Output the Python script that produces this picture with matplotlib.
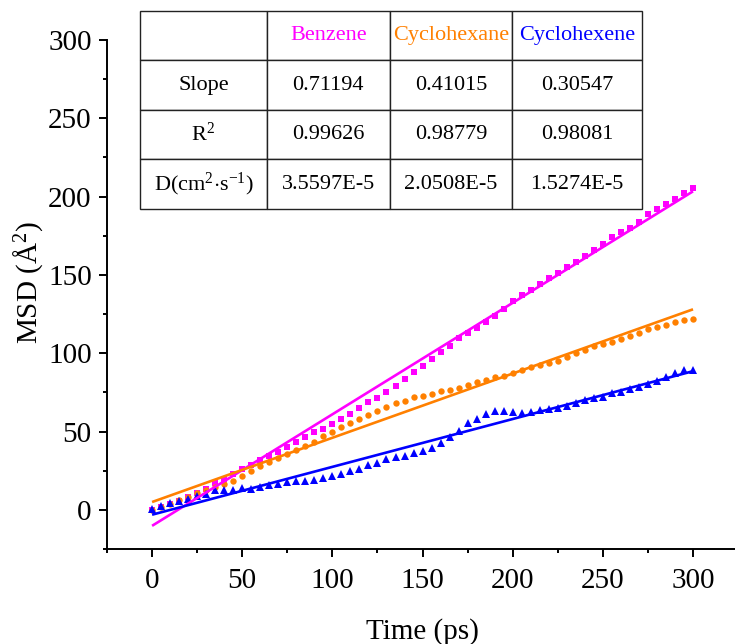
import numpy as np
import matplotlib
matplotlib.use("Agg")
import matplotlib.pyplot as plt
from matplotlib.ticker import MultipleLocator

plt.rcParams['font.family'] = ['Liberation Serif', 'DejaVu Serif']
plt.rcParams['mathtext.fontset'] = 'custom'
plt.rcParams['mathtext.rm'] = 'Liberation Serif'
plt.rcParams['mathtext.it'] = 'Liberation Serif:italic'
plt.rcParams['mathtext.bf'] = 'Liberation Serif:bold'

# MSD curves sampled every 5 ps
time_ps = np.arange(0, 301, 5)

benzene = [0.0, 1.5, 3.5, 5.5, 8.0, 10.6, 13.3, 17.2, 19.4, 23.2,
           26.1, 28.7, 31.9, 34.7, 37.2, 40.4, 43.6, 46.8, 49.4, 51.9,
           54.9, 58.2, 61.4, 65.3, 68.6, 71.7, 75.5, 79.2, 83.8, 88.3,
           92.0, 96.4, 101.1, 104.9, 109.6, 112.8, 116.4, 120.2, 124.0, 128.1,
           133.3, 137.2, 140.4, 144.0, 147.9, 151.1, 155.3, 158.5, 162.1, 166.0,
           170.0, 174.1, 177.2, 180.2, 184.0, 188.7, 191.9, 195.1, 198.3, 202.1,
           205.3]

cyclohexane = [0.0, 1.7, 3.6, 6.1, 8.3, 10.8, 12.5, 14.3, 16.4, 18.6,
               21.9, 25.1, 28.1, 30.6, 33.2, 35.5, 37.9, 40.9, 43.6, 47.4,
               49.9, 52.8, 55.5, 58.0, 60.7, 63.3, 65.6, 68.1, 69.8, 71.9,
               72.8, 74.2, 75.8, 76.8, 78.1, 79.8, 81.4, 83.0, 84.6, 85.7,
               87.5, 89.1, 91.1, 92.6, 93.8, 95.2, 97.3, 100.0, 102.0, 104.5,
               106.0, 107.4, 109.1, 110.9, 113.0, 115.3, 117.0, 118.3, 119.7, 121.3,
               122.1]

cyclohexene = [0.3, 2.2, 4.4, 5.6, 6.8, 8.6, 10.0, 12.6, 12.6, 12.6,
               14.2, 13.2, 14.3, 15.7, 16.4, 17.7, 18.1, 18.7, 19.1, 20.6,
               21.7, 23.0, 24.7, 26.1, 28.4, 29.8, 32.5, 33.6, 34.5, 36.2,
               37.7, 39.5, 42.6, 46.3, 50.6, 55.3, 58.0, 61.1, 63.3, 63.4,
               62.5, 61.7, 62.3, 63.8, 64.3, 64.9, 66.4, 68.1, 70.2, 71.3,
               72.3, 74.5, 75.5, 77.0, 78.7, 80.4, 82.3, 84.7, 87.2, 89.4,
               89.4]

names = ['Benzene', 'Cyclohexane', 'Cyclohexene']
colors = ['#FF00FF', '#FF8000', '#0000FF']
markers = ['s', 'o', '^']
marker_sizes = [3.8, 4.6, 5.2]

# linear fits (slope from the table, intercept of the fitted line)
slopes = [0.71194, 0.41015, 0.30547]
intercepts = [-10.2, 5.0, -3.1]
r_squared = ['0.99626', '0.98779', '0.98081']
diffusion = ['3.5597E-5', '2.0508E-5', '1.5274E-5']

W, H = 735, 644
fig = plt.figure(figsize=(W / 100, H / 100), dpi=100)

# axes frame in pixel units
x0_px, x1_px = 107, 738.1
y_top_px, y_bot_px = 40, 549
ax = fig.add_axes([x0_px / W, 1 - y_bot_px / H,
                   (x1_px - x0_px) / W, (y_bot_px - y_top_px) / H])

series = [benzene, cyclohexane, cyclohexene]
for vals, c, m, ms in zip(series, colors, markers, marker_sizes):
    ax.plot(time_ps, vals, linestyle='none', marker=m, markersize=ms,
            color=c, markeredgewidth=0, zorder=3)

fit_x = np.array([0, 300])
for k, b, c in zip(slopes, intercepts, colors):
    ax.plot(fit_x, k * fit_x + b, color=c, linewidth=1.9, zorder=4,
            solid_capstyle='butt')

ax.set_xlim(-25, 325)
ax.set_ylim(-25, 300)
ax.xaxis.set_major_locator(MultipleLocator(50))
ax.xaxis.set_minor_locator(MultipleLocator(25))
ax.yaxis.set_major_locator(MultipleLocator(50))
ax.yaxis.set_minor_locator(MultipleLocator(25))

for side in ('top', 'right'):
    ax.spines[side].set_visible(False)
for side in ('left', 'bottom'):
    ax.spines[side].set_linewidth(1.4)

ax.tick_params(which='major', direction='out', length=5.5, width=1.4,
               labelsize=21)
ax.tick_params(which='minor', direction='out', length=3, width=1.4)
ax.tick_params(axis='x', which='major', pad=8.5)
ax.tick_params(axis='y', which='major', pad=5.5)

ax.set_xlabel('Time (ps)', fontsize=21, labelpad=17)
ax.set_ylabel('MSD (Å$^{2}$)', fontsize=21)
ax.yaxis.set_label_coords(-0.098, 0.523)

# summary table of the linear fits
tbl_left, tbl_right, tbl_top, tbl_bot = 140, 641.7, 10.7, 209
tax = fig.add_axes([tbl_left / W, 1 - tbl_bot / H,
                    (tbl_right - tbl_left) / W, (tbl_bot - tbl_top) / H])
tax.axis('off')

cell_text = [
    [''] + names,
    ['Slope'] + [f'{s:.5f}' for s in slopes],
    ['R$^{2}$'] + r_squared,
    ['D(cm$^{2}$$\\cdot$s$^{-1}$)'] + diffusion,
]
col_widths = [126.7, 123.0, 122.6, 129.4]
total = sum(col_widths)
table = tax.table(cellText=cell_text, cellLoc='center', bbox=[0, 0, 1, 1],
                  colWidths=[w / total for w in col_widths])
table.auto_set_font_size(False)
table.set_fontsize(16)
for (r, c), cell in table.get_celld().items():
    cell.set_edgecolor('#222222')
    cell.set_linewidth(1.0)
    cell.set_facecolor('white')
    cell.get_text().set_fontfamily(['Liberation Serif', 'DejaVu Serif'])
    if r == 0 and c > 0:
        cell.get_text().set_color(colors[c - 1])

fig.savefig('out.png', dpi=100)
